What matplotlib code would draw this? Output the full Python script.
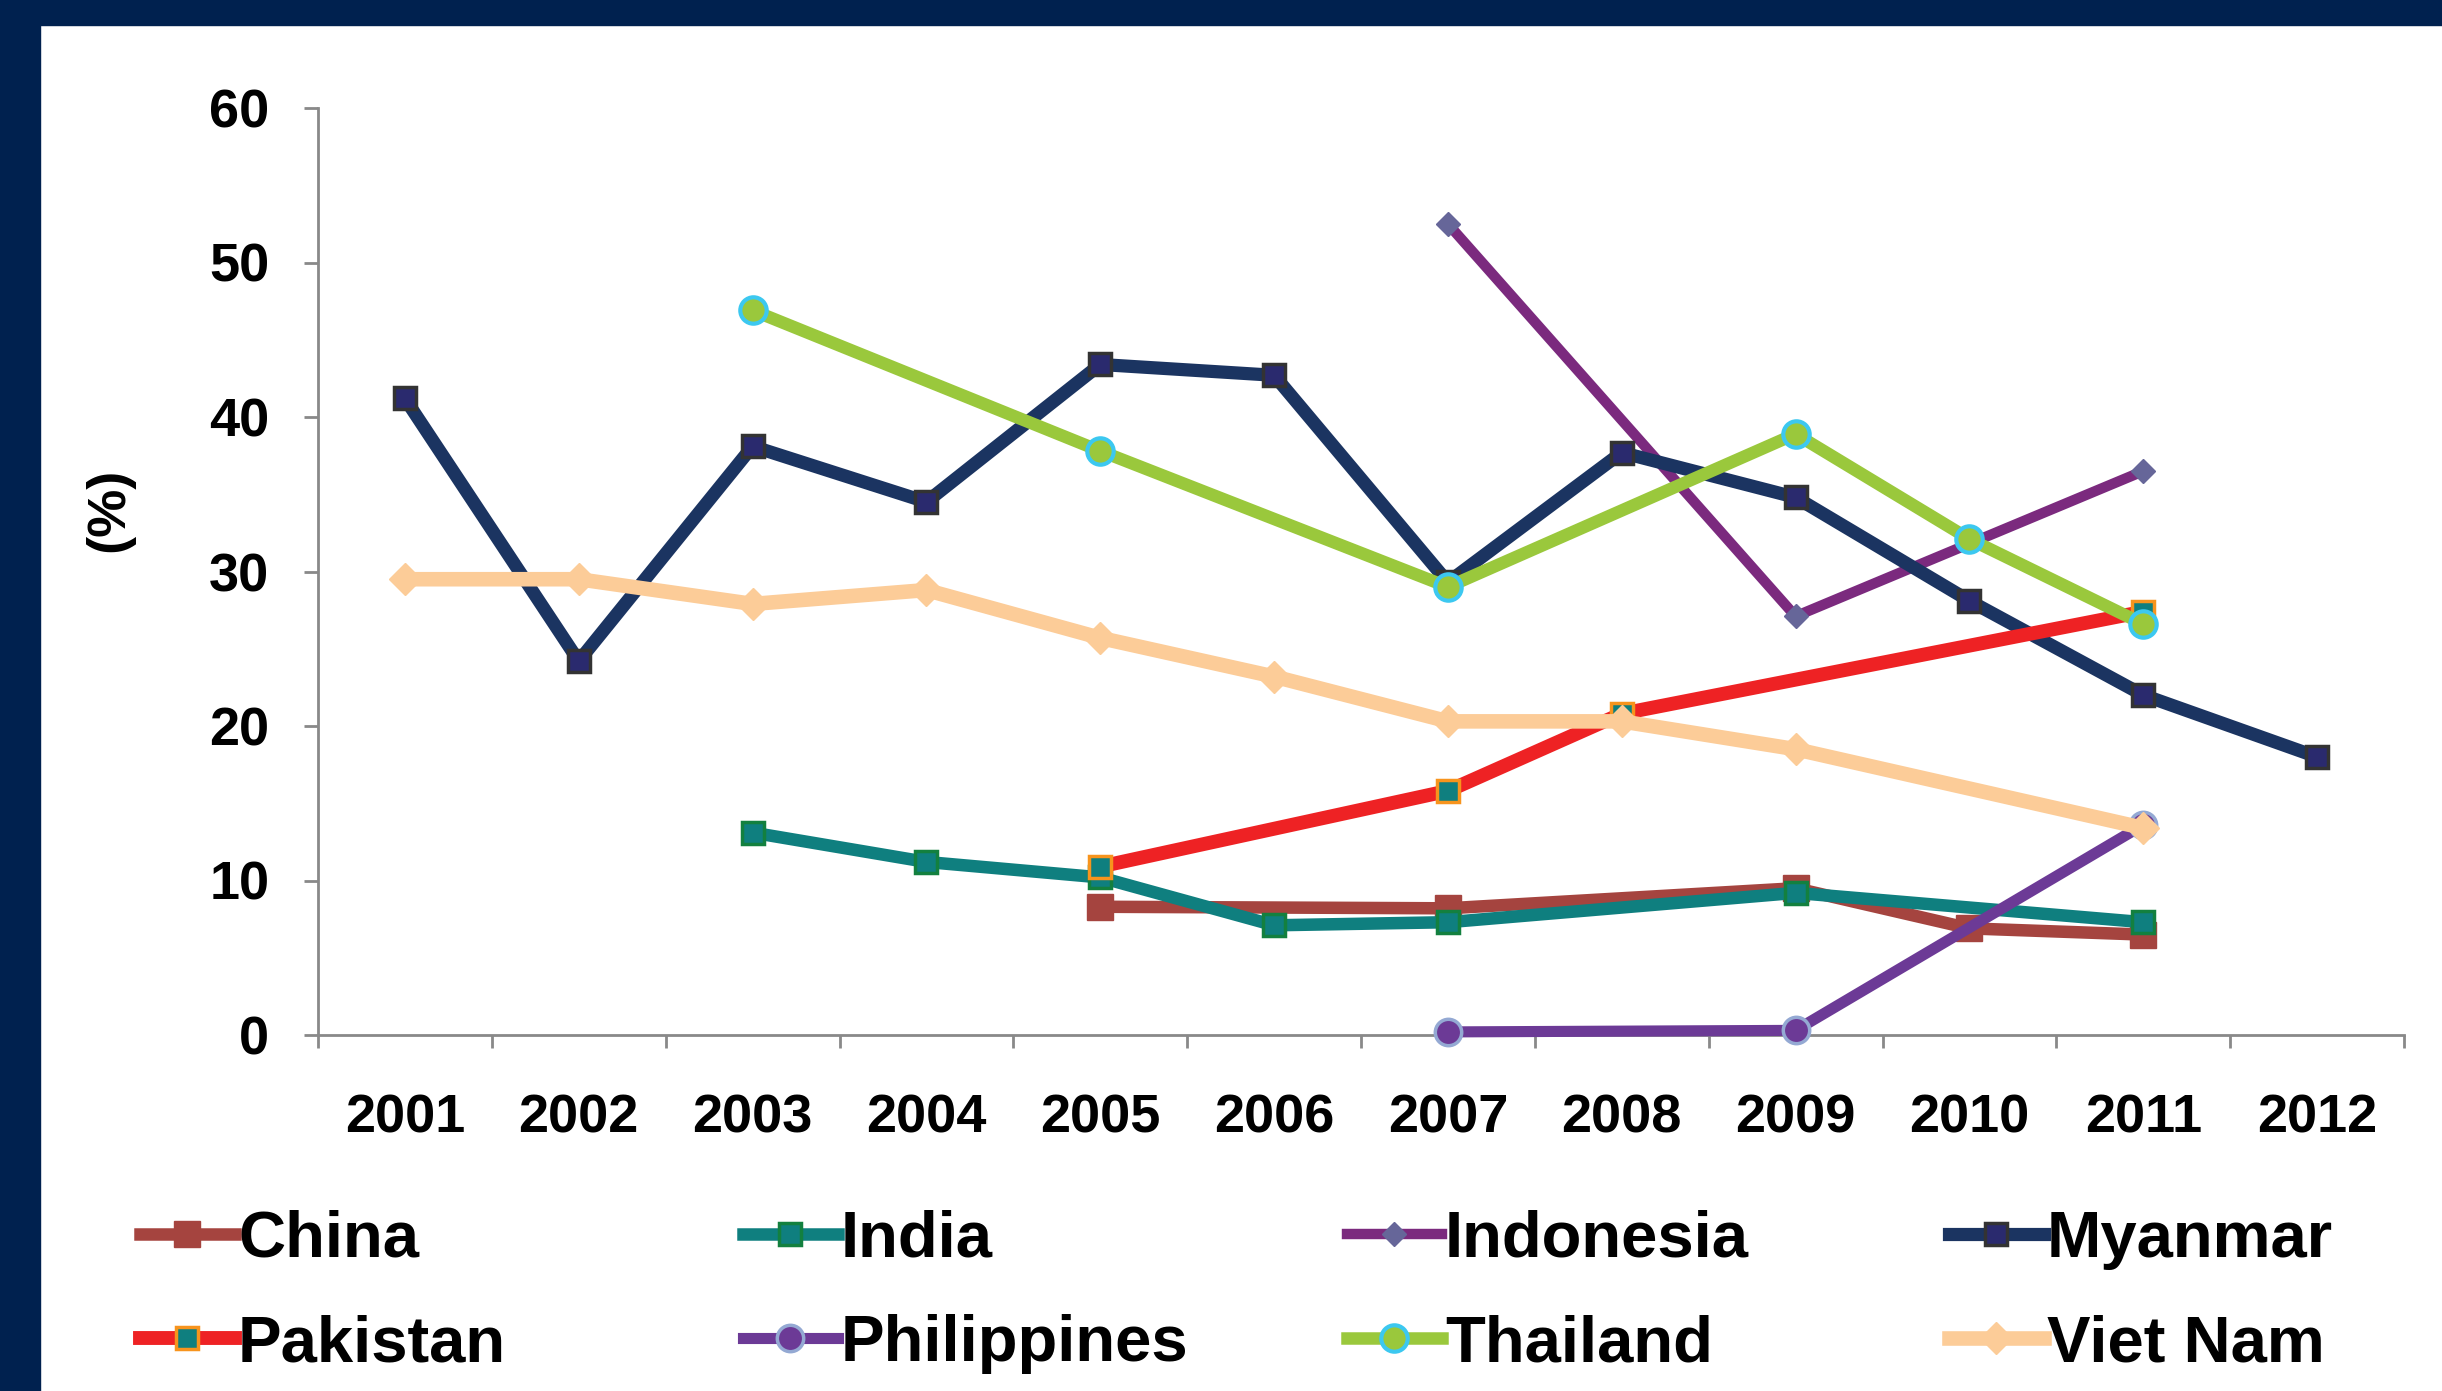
import numpy as np
import matplotlib.pyplot as plt
from matplotlib.patches import Rectangle

plt.rcParams['font.family'] = ['Liberation Sans', 'DejaVu Sans']
plt.rcParams['font.weight'] = 'bold'

# data (None = no value that year)
years = [2001, 2002, 2003, 2004, 2005, 2006, 2007, 2008, 2009, 2010, 2011, 2012]
china = [None, None, None, None, 8.3, None, 8.2, None, 9.5, 6.9, 6.5, None]
india = [None, None, 13.1, 11.2, 10.2, 7.1, 7.3, None, 9.2, None, 7.3, None]
indonesia = [None, None, None, None, None, None, 52.5, None, 27.1, None, 36.5, None]
myanmar = [41.2, 24.2, 38.1, 34.5, 43.4, 42.7, 29.3, 37.7, 34.8, 28.1, 22.0, 18.0]
pakistan = [None, None, None, None, 10.9, None, 15.8, 20.8, None, None, 27.4, None]
philippines = [None, None, None, None, None, None, 0.2, None, 0.3, None, 13.6, None]
thailand = [None, None, 46.9, None, 37.8, None, 29.0, None, 38.9, 32.1, 26.6, None]
vietnam = [29.5, 29.5, 27.9, 28.8, 25.7, 23.2, 20.3, 20.3, 18.5, None, 13.4, None]

# style per series: values, line colour, line width, marker, size, face, edge, edge width
series = [
    ('China', china, '#A5443F', 9, 's', 19, '#A5443F', '#A5443F', 1),
    ('India', india, '#0F7F7F', 9, 's', 16, '#0F7F7F', '#13803F', 2.5),
    ('Indonesia', indonesia, '#7B2A7E', 7.5, 'D', 12, '#666699', '#666699', 1),
    ('Myanmar', myanmar, '#1B3461', 9.5, 's', 16, '#2A2A6E', '#333333', 2.5),
    ('Pakistan', pakistan, '#EE2224', 10, 's', 16, '#0F7F7F', '#F7941D', 2.5),
    ('Philippines', philippines, '#6C3A96', 8, 'o', 19, '#6C3A96', '#94A9D3', 2.5),
    ('Thailand', thailand, '#9AC83C', 9, 'o', 19, '#9AC83C', '#3CC8F0', 3),
    ('Viet Nam', vietnam, '#FCCC98', 10.5, 'D', 16, '#FCCC98', '#FCCC98', 1),
]

W, H = 2442, 1391
fig = plt.figure(figsize=(W / 100, H / 100), dpi=100)
fig.patch.set_facecolor('white')

# navy frame on left and top
navy = '#00214F'
fig.patches.append(Rectangle((0, 0), 40 / W, 1, transform=fig.transFigure, color=navy, zorder=0))
fig.patches.append(Rectangle((0, 1 - 25 / H), 1, 25 / H, transform=fig.transFigure, color=navy, zorder=0))

ax = fig.add_axes([318 / W, 1 - 1035 / H, (2404 - 318) / W, (1035 - 108) / H])
ax.set_facecolor('none')

handles = {}
for i, (name, vals, col, lw, mk, ms, mfc, mec, mew) in enumerate(series):
    xs = [y for y, v in zip(years, vals) if v is not None]
    ys = [v for v in vals if v is not None]
    ln, = ax.plot(xs, ys, color=col, lw=lw, marker=mk, ms=ms, mfc=mfc, mec=mec,
                  mew=mew, label=name, zorder=3 + i, clip_on=False)
    handles[name] = ln

ax.set_xlim(2000.5, 2012.5)
ax.set_ylim(0, 60)

grey = '#898989'
for s in ['top', 'right']:
    ax.spines[s].set_visible(False)
for s in ['left', 'bottom']:
    ax.spines[s].set_color(grey)
    ax.spines[s].set_linewidth(2)

ax.set_yticks(np.arange(0, 61, 10))
ax.tick_params(axis='y', direction='out', length=10, width=2, color=grey,
               labelsize=39, pad=25)

# ticks between categories, labels at category centres
ax.set_xticks(np.arange(2000.5, 2013, 1))
ax.set_xticklabels([])
ax.set_xticks(years, minor=True)
ax.set_xticklabels([str(y) for y in years], minor=True)
ax.tick_params(axis='x', which='major', direction='out', length=9, width=2, color=grey)
ax.tick_params(axis='x', which='minor', length=0, labelsize=39, pad=42)
for lab in ax.get_xticklabels(minor=True) + ax.get_yticklabels():
    lab.set_fontweight('bold')

fig.text(109 / W, 1 - 510 / H, '(%)', rotation=90, ha='center', va='center',
         fontsize=39, fontweight='bold')

# legend: four columns of two rows
columns = [['China', 'Pakistan'], ['India', 'Philippines'],
           ['Indonesia', 'Thailand'], ['Myanmar', 'Viet Nam']]
col_x = [140, 743, 1347, 1949]
for cx, names in zip(col_x, columns):
    leg = fig.legend([handles[n] for n in names], names, loc='center left',
                     bbox_to_anchor=(cx / W, 1 - 1292 / H), frameon=False,
                     fontsize=47, handlelength=1.45, handletextpad=0.05,
                     labelspacing=0.68, borderpad=0, borderaxespad=0)
    for t in leg.get_texts():
        t.set_fontweight('bold')

fig.savefig('out.png', dpi=100)
